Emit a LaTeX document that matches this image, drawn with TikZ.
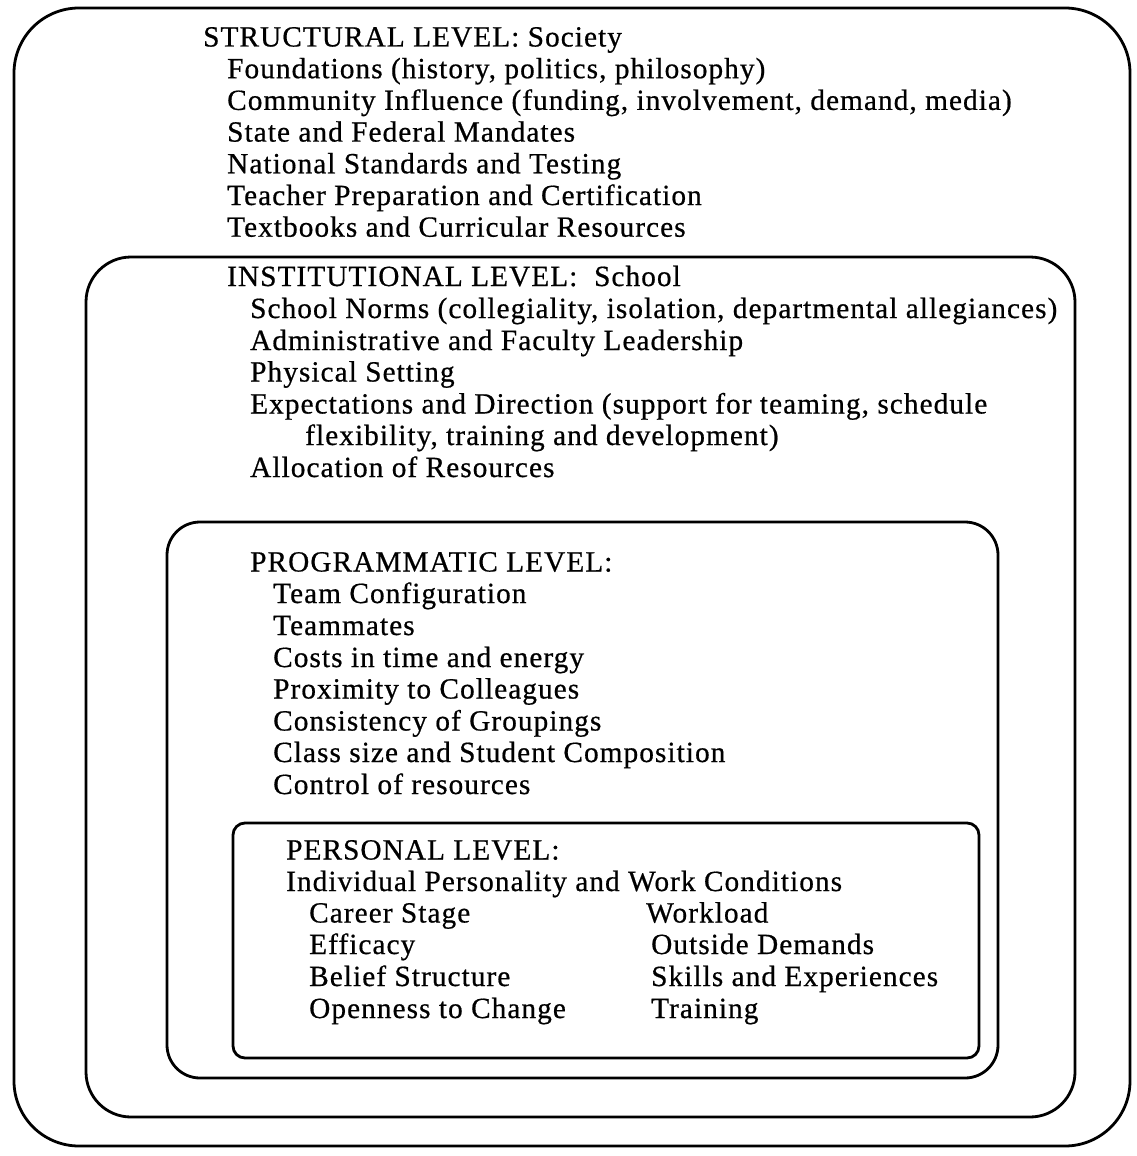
\documentclass[tikz,border=0pt]{standalone}
\usepackage{fontspec}
\setmainfont{Liberation Serif}[LetterSpace=3.6,FakeBold=0.6]
\begin{document}
\begin{tikzpicture}[x=1pt,y=-1pt,
  levelbox/.style={draw=black,line width=2.8pt},
  txt/.style={anchor=base west,inner sep=0pt,font=\fontsize{29.3}{32}\selectfont}]
\useasboundingbox (0,0) rectangle (1137,1156);
% boxes
\draw[levelbox,rounded corners=65pt] (14,8) rectangle (1130,1146);
\draw[levelbox,rounded corners=45pt] (86,257) rectangle (1075,1117);
\draw[levelbox,rounded corners=33pt] (167,522) rectangle (998,1078);
\draw[levelbox,rounded corners=12pt] (233,823) rectangle (979,1058);
% structural
\node[txt] (s0) at (203,46.5) {STRUCTURAL LEVEL: Society};
\node[txt] (s1) at (227,78.2) {Foundations (history, politics, philosophy)};
\node[txt] (s2) at (227,109.9) {Community Influence (funding, involvement, demand, media)};
\node[txt] (s3) at (227,141.6) {State and Federal Mandates};
\node[txt] (s4) at (227,173.3) {National Standards and Testing};
\node[txt] (s5) at (227,205) {Teacher Preparation and Certification};
\node[txt] (s6) at (227,236.7) {Textbooks and Curricular Resources};
% institutional
\node[txt] (i0) at (227,286) {INSTITUTIONAL LEVEL:\ \ School};
\node[txt] (i1) at (250,318) {School Norms (collegiality, isolation, departmental allegiances)};
\node[txt] (i2) at (250,350) {Administrative and Faculty Leadership};
\node[txt] (i3) at (250,381.5) {Physical Setting};
\node[txt] (i4) at (250,413.5) {Expectations and Direction (support for teaming, schedule};
\node[txt] (i5) at (305,445) {flexibility, training and development)};
\node[txt] (i6) at (250,477) {Allocation of Resources};
% programmatic
\node[txt] (p0) at (250,571.5) {PROGRAMMATIC LEVEL:};
\node[txt] (p1) at (273,603) {Team Configuration};
\node[txt] (p2) at (273,635) {Teammates};
\node[txt] (p3) at (273,667) {Costs in time and energy};
\node[txt] (p4) at (273,698.5) {Proximity to Colleagues};
\node[txt] (p5) at (273,730.5) {Consistency of Groupings};
\node[txt] (p6) at (273,762) {Class size and Student Composition};
\node[txt] (p7) at (273,794) {Control of resources};
% personal
\node[txt] (q0) at (286,859.5) {PERSONAL LEVEL:};
\node[txt] (q1) at (286,891) {Individual Personality and Work Conditions};
\node[txt] (q2) at (309,922.5) {Career Stage};
\node[txt] (q3) at (309,954) {Efficacy};
\node[txt] (q4) at (309,986) {Belief Structure};
\node[txt] (q5) at (309,1018) {Openness to Change};
\node[txt] (r2) at (646,922.5) {Workload};
\node[txt] (r3) at (651,954) {Outside Demands};
\node[txt] (r4) at (651,986) {Skills and Experiences};
\node[txt] (r5) at (651,1018) {Training};
\end{tikzpicture}
\end{document}
